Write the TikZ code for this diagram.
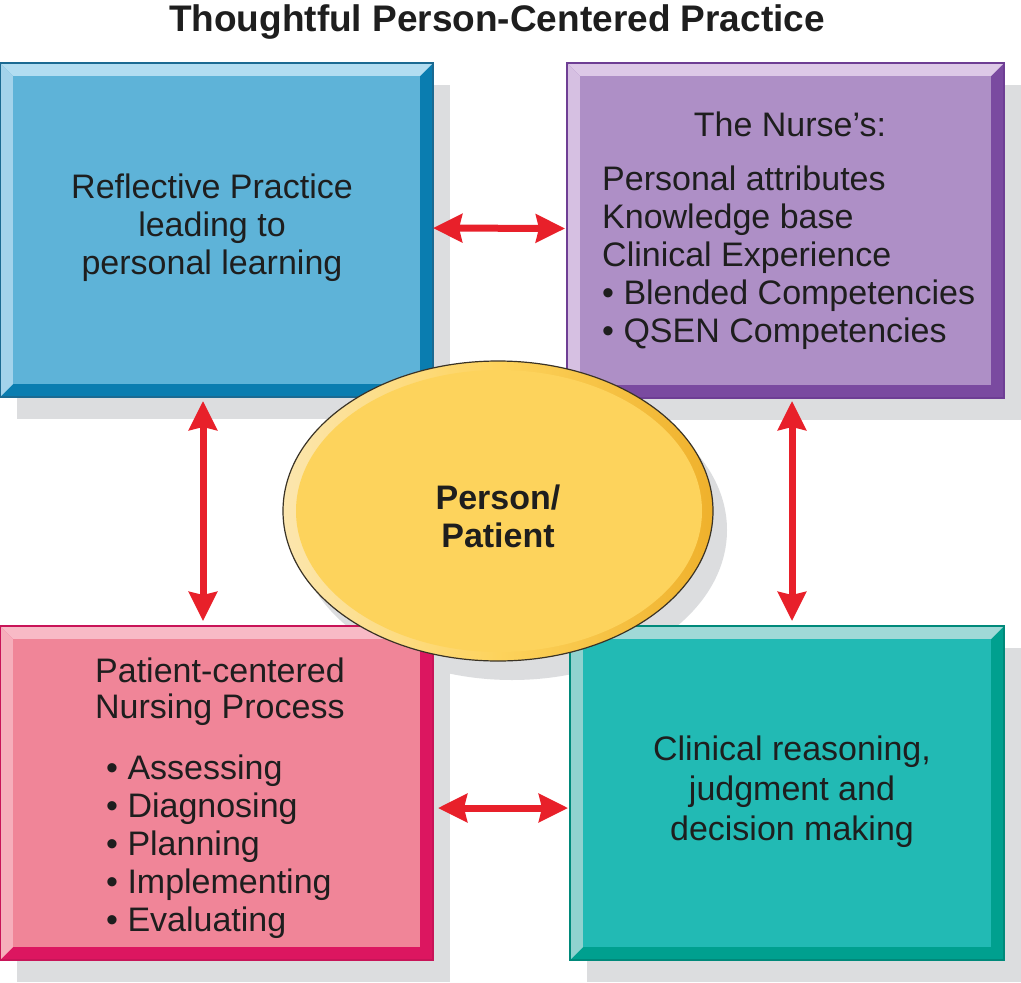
\documentclass[tikz,border=0pt]{standalone}
\usepackage{fontspec}
\setmainfont{Liberation Sans}
\usetikzlibrary{arrows.meta,shapes.geometric,fit}
\definecolor{shadowgray}{HTML}{DCDDDF}
\definecolor{arrred}{HTML}{E8202A}
\definecolor{txt}{HTML}{1E1E1E}
% blue
\definecolor{bluefill}{HTML}{5EB3D8}
\definecolor{bluetop}{HTML}{B2DDF1}
\definecolor{blueleft}{HTML}{A3D3EB}
\definecolor{bluedark}{HTML}{0A7DB0}
\definecolor{blueedge}{HTML}{1B6A92}
% purple
\definecolor{purpfill}{HTML}{AE8FC6}
\definecolor{purptop}{HTML}{DDC9E7}
\definecolor{purpleft}{HTML}{D6C0E2}
\definecolor{purpdark}{HTML}{7A4AA0}
\definecolor{purpedge}{HTML}{6E3E94}
% pink
\definecolor{pinkfill}{HTML}{F08598}
\definecolor{pinktop}{HTML}{F8BAC6}
\definecolor{pinkleft}{HTML}{F6AEBB}
\definecolor{pinkdark}{HTML}{DC1660}
\definecolor{pinkedge}{HTML}{C81458}
% teal
\definecolor{tealfill}{HTML}{22BAB4}
\definecolor{tealtop}{HTML}{A0D9D7}
\definecolor{tealleft}{HTML}{90D2CF}
\definecolor{tealdark}{HTML}{00A08F}
\definecolor{tealedge}{HTML}{00897A}
% yellow
\definecolor{yfill}{HTML}{FDD35C}
\definecolor{ylight}{HTML}{FCE6AE}
\definecolor{yorange}{HTML}{EFB12C}
\definecolor{yedge}{HTML}{3A3326}
\newcommand\boxshadow[4]{\fill[shadowgray] (#1+17,#2+22) rectangle (#3+17,#4+22);}
\newcommand\bevbox[6]{%
  \fill[#6dark] (#2,#3) rectangle (#4,#5);
  \fill[#6left] (#2,#3) -- (#2+13,#3+13) -- (#2+13,#5-13) -- (#2,#5) -- cycle;
  \fill[#6top] (#2,#3) -- (#4,#3) -- (#4-13,#3+13) -- (#2+13,#3+13) -- cycle;
  \fill[#6fill] (#2+13,#3+13) rectangle (#4-13,#5-13);
  \draw[#6edge, line width=1.3pt] (#2,#3) rectangle (#4,#5);
  \path (#2,#3) coordinate (#1nw) (#4,#5) coordinate (#1se);
  \node[inner sep=0pt, outer sep=0pt, fit=(#1nw)(#1se)] (#1) {};
}
\tikzset{
  arr/.style={draw=arrred, line width=7pt,
    {Stealth[length=29pt,width=28pt,inset=3pt]}-{Stealth[length=29pt,width=28pt,inset=3pt]}},
  body/.style={font=\fontsize{34}{38}\selectfont, text=txt, inner sep=0pt}
}
\begin{document}
\begin{tikzpicture}[x=1pt,y=-1pt]
\useasboundingbox (0,0) rectangle (1021,983);
\fill[white] (0,0) rectangle (1021,983);
% shadows
\boxshadow{0}{63}{433}{397}
\boxshadow{567}{63}{1004}{398}
\boxshadow{0}{626}{433}{960}
\boxshadow{570}{626}{1004}{960}
\fill[shadowgray] (512,530) ellipse [x radius=215, y radius=150];
% boxes
\bevbox{blue}{0}{63}{433}{397}{blue}
\bevbox{nurse}{567}{63}{1004}{398}{purp}
\bevbox{proc}{0}{626}{433}{960}{pink}
\bevbox{clin}{570}{626}{1004}{960}{teal}
% ellipse
\shade[left color=ylight, right color=yorange, middle color=yfill]
  (498,511) ellipse [x radius=215, y radius=150];
\fill[yfill] (499,511) ellipse [x radius=203, y radius=141];
\draw[yedge, line width=1.2pt] (498,511) ellipse [x radius=215, y radius=150];
\node[body, font=\fontsize{34}{38}\selectfont\bfseries, align=center] (person) at (498,516) {Person/\\Patient};
% arrows
\draw[arr] ([yshift=2pt]blue.east) -- ([yshift=2pt,xshift=-2pt]nurse.west);
\draw[arr] ([yshift=-15pt,xshift=5pt]proc.east) -- ([yshift=-15pt,xshift=-2pt]clin.west);
\draw[arr] ([xshift=-13.5pt,yshift=-4pt]blue.south) -- ([xshift=-13.5pt,yshift=5pt]proc.north);
\draw[arr] ([xshift=6.5pt,yshift=-3pt]nurse.south) -- ([xshift=5pt,yshift=5pt]clin.north);
% title
\node[font=\fontsize{37}{40}\selectfont\bfseries, text=txt, inner sep=0pt, anchor=base] (title) at (497,31) {Thoughtful Person-Centered Practice};
% texts
\node[body, align=center] (t1) at (212,228) {Reflective Practice\\leading to\\personal learning};
\node[body] (t2a) at (790,124) {The Nurse’s:};
\node[body, align=left, anchor=west] (t2b) at (602,258) {Personal attributes\\Knowledge base\\Clinical Experience\\• Blended Competencies\\• QSEN Competencies};
\node[body, align=left, anchor=west, font=\fontsize{34}{36}\selectfont] (t3a) at (95,692) {Patient-centered\\Nursing Process};
\node[body, align=left, anchor=west] (t3b) at (106,847) {• Assessing\\• Diagnosing\\• Planning\\• Implementing\\• Evaluating};
\node[body, align=center, font=\fontsize{34}{40}\selectfont] (t4) at (792,792) {Clinical reasoning,\\judgment and\\decision making};
\end{tikzpicture}
\end{document}
